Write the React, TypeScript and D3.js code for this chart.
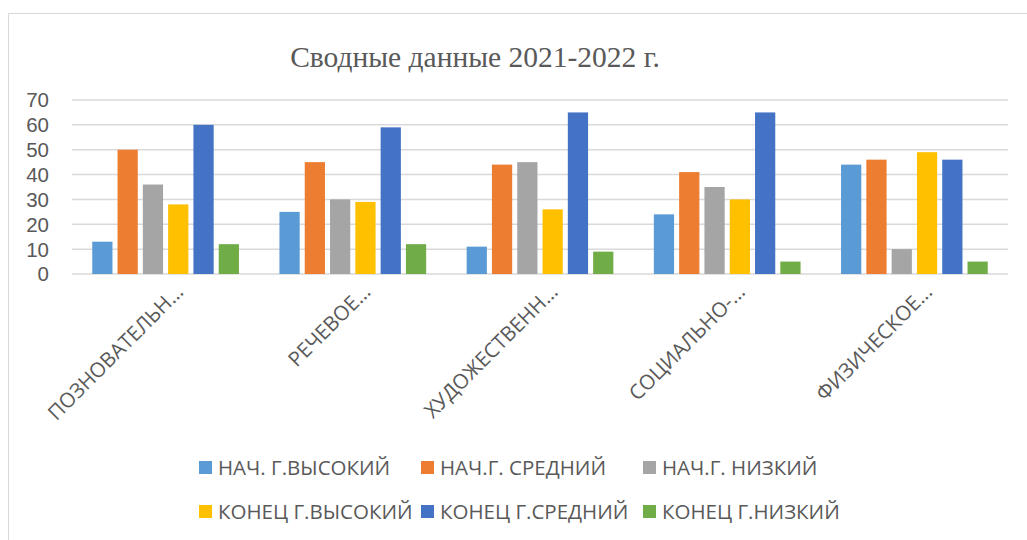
import React from 'react'
import * as d3 from 'd3'

const categories = ['ПОЗНОВАТЕЛЬН...', 'РЕЧЕВОЕ...', 'ХУДОЖЕСТВЕНН...', 'СОЦИАЛЬНО-...', 'ФИЗИЧЕСКОЕ...']
const seriesNames = ['НАЧ. Г.ВЫСОКИЙ', 'НАЧ.Г. СРЕДНИЙ', 'НАЧ.Г. НИЗКИЙ', 'КОНЕЦ Г.ВЫСОКИЙ', 'КОНЕЦ Г.СРЕДНИЙ', 'КОНЕЦ Г.НИЗКИЙ']
const seriesColors = ['#5B9BD5', '#ED7D31', '#A5A5A5', '#FFC000', '#4472C4', '#70AD47']
const startHigh = [13, 25, 11, 24, 44]
const startMid = [50, 45, 44, 41, 46]
const startLow = [36, 30, 45, 35, 10]
const endHigh = [28, 29, 26, 30, 49]
const endMid = [60, 59, 65, 65, 46]
const endLow = [12, 12, 9, 5, 5]
const yTicks = [0, 10, 20, 30, 40, 50, 60, 70]

const W = 1027
const H = 540
const margin = { left: 72, right: 19, top: 100, bottom: 266 }
const textColor = '#595959'
const sans = '"Open Sans", "Liberation Sans", sans-serif'

export default function App() {
  const series = [startHigh, startMid, startLow, endHigh, endMid, endLow]
  const innerW = W - margin.left - margin.right
  const innerH = H - margin.top - margin.bottom

  const x0 = d3.scaleBand<string>().domain(categories).range([0, innerW]).paddingInner(0).paddingOuter(0)
  const x1 = d3.scaleBand<number>()
    .domain(d3.range(series.length))
    .range([0, x0.bandwidth()])
    .paddingInner(0.2)
    .paddingOuter(0.8)
  const y = d3.scaleLinear().domain([0, 70]).range([innerH, 0])

  return (
    <svg width={W} height={H} style={{ position: 'absolute', left: 0, top: 0, background: '#fff' }}>
      <rect x={8.5} y={13.5} width={W} height={H} fill="#fff" stroke="#d9d9d9" strokeWidth={1} />
      <text x={475} y={67} textAnchor="middle" fontFamily='"Liberation Serif", "Times New Roman", serif'
        fontSize={29.5} fill={textColor}>
        Сводные данные 2021-2022 г.
      </text>
      <g transform={`translate(${margin.left},${margin.top})`}>
        {yTicks.map(t => (
          <g key={t}>
            <line x1={0} x2={innerW} y1={y(t)} y2={y(t)} stroke="#d9d9d9" strokeWidth={1.5} />
            <text x={-23} y={y(t)} dy="0.36em" textAnchor="end" fontFamily='"Liberation Sans", Arial, sans-serif'
              fontSize={20.5} fill={textColor}>{t}</text>
          </g>
        ))}
        {categories.map((c, ci) => (
          <g key={c} transform={`translate(${x0(c)},0)`}>
            {series.map((s, si) => (
              <rect key={si} x={x1(si)} y={y(s[ci])} width={x1.bandwidth()} height={innerH - y(s[ci])}
                fill={seriesColors[si]} />
            ))}
          </g>
        ))}
        {categories.map(c => {
          const cx = (x0(c) ?? 0) + x0.bandwidth() / 2
          return (
            <text key={c} transform={`translate(${cx + 14},${innerH + 14}) rotate(-45)`} textAnchor="end"
              dy="0.35em" fontFamily={sans} fontSize={20.5} fill={textColor}>{c}</text>
          )
        })}
      </g>
      <g>
        {seriesNames.map((n, i) => {
          const col = i % 3
          const row = Math.floor(i / 3)
          const lx = 199 + col * 222
          const ly = 468 + row * 44
          return (
            <g key={n} transform={`translate(${lx},${ly})`}>
              <rect x={0} y={-7} width={13} height={13} fill={seriesColors[i]} />
              <text x={19} y={0} dy="0.35em" fontFamily={sans} fontSize={20.5} fill={textColor}>{n}</text>
            </g>
          )
        })}
      </g>
    </svg>
  )
}
